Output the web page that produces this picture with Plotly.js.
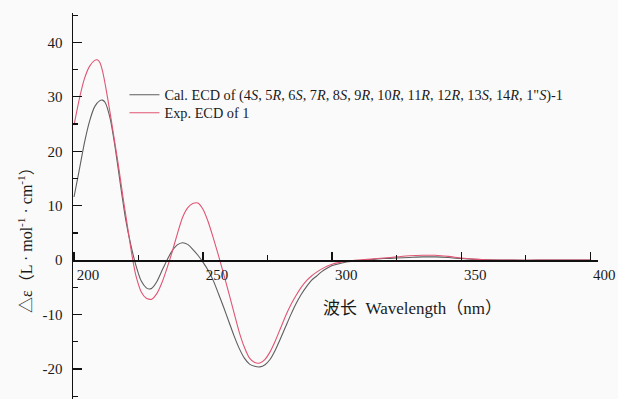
<!DOCTYPE html>
<html>
<head>
<meta charset="utf-8">
<script src="https://cdn.plot.ly/plotly-3.0.1.min.js"></script>
<style>
html,body{margin:0;padding:0;background:#fafafa;}
#chart{width:618px;height:399px;}
</style>
</head>
<body>
<div id="chart"></div>
<script>
// Wavelength (nm) grid for the calculated spectrum
const calWavelength = [200,202,204,206,208,210,211,212,214,216,218,220,222,224,226,228,229,230,232,234,236,238,240,242,244,246,248,250,252,254,256,258,260,262,264,266,268,270,272,274,276,278,280,282,284,286,288,290,292,294,296,298,300,303,306,310,315,320,325,330,335,340,345,350,355,360,370,380,390,400];
const calDelta = [11.6,16.5,21.5,25.5,28.2,29.3,29.4,29.0,26.0,20.5,13.8,7.5,2.8,-1.0,-3.8,-5.1,-5.3,-5.2,-4.0,-2.0,0.0,1.7,2.8,3.2,2.9,2.0,0.9,-0.4,-1.9,-3.8,-6.2,-8.7,-11.3,-13.9,-16.2,-18.0,-19.1,-19.5,-19.6,-19.2,-18.2,-16.5,-14.4,-12.2,-10.0,-8.0,-6.3,-4.9,-3.7,-2.9,-2.1,-1.5,-1.0,-0.6,-0.3,-0.1,0.1,0.3,0.4,0.5,0.6,0.6,0.5,0.3,0.15,0.05,0,0,0,0];

// Experimental spectrum
const expWavelength = [200,202,204,206,208,209,210,211,212,213,214,215,216,217,218,219,220,221,222,223,224,226,228,230,232,234,236,238,240,242,244,246,248,250,252,254,256,258,260,262,264,266,268,270,272,274,276,278,280,282,284,286,288,290,292,294,296,298,300,302,306,310,315,320,325,330,335,340,345,350,355,360,370,380,390,400];
const expDelta = [24.8,29.5,33.3,35.6,36.7,36.8,36.3,34.8,32.5,29.8,27.0,24.0,21.0,18.0,14.8,11.5,8.4,5.3,2.2,-0.6,-2.9,-5.8,-7.0,-7.2,-6.2,-4.2,-1.5,1.5,4.8,7.8,9.6,10.4,10.5,9.3,7.0,4.0,0.8,-2.6,-6.1,-9.7,-13.2,-16.0,-18.0,-18.8,-18.9,-18.2,-16.8,-14.8,-12.5,-10.2,-8.2,-6.5,-5.0,-3.8,-2.9,-2.2,-1.6,-1.1,-0.75,-0.5,-0.2,0,0.2,0.4,0.6,0.8,0.9,0.9,0.7,0.4,0.2,0.05,0,0,0,0];

const xTickVals = [200,250,300,350,400];
const yTickVals = [-20,-10,0,10,20,30,40];

const calName = 'Cal. ECD of (4<i>S</i>, 5<i>R</i>, 6<i>S</i>, 7<i>R</i>, 8<i>S</i>, 9<i>R</i>, 10<i>R</i>, 11<i>R</i>, 12<i>R</i>, 13<i>S</i>, 14<i>R</i>, 1"<i>S</i>)-1';
const expName = 'Exp. ECD of 1';
const xTitle = '波长  Wavelength（nm）';
const yTitle = '△ε（L · mol<sup>-1</sup> · cm<sup>-1</sup>）';

const serif = '"Liberation Serif", "Times New Roman", "Noto Sans CJK SC", serif';
const yMin = -25.5, yMax = 45.4;

const traces = [
  {x: calWavelength, y: calDelta, name: calName, type: 'scatter', mode: 'lines', legend: 'legend',
   line: {color: '#5e5e5e', width: 1.1, shape: 'spline', smoothing: 0.6}},
  {x: expWavelength, y: expDelta, name: expName, type: 'scatter', mode: 'lines', legend: 'legend2',
   line: {color: '#e05573', width: 1.1, shape: 'spline', smoothing: 0.6}}
];

const legendFont = {family: serif, size: 14.3, color: '#1a1a1a'};
const layout = {
  width: 618, height: 399,
  paper_bgcolor: '#fafafa', plot_bgcolor: '#fafafa',
  margin: {l: 73, r: 20, t: 13, b: 0},
  font: {family: serif, size: 15, color: '#1a1a1a'},
  showlegend: true,
  legend: {x: 0.098, y: (399 - 79) / 386, xanchor: 'left', yanchor: 'top',
           bgcolor: 'rgba(0,0,0,0)', borderwidth: 0, font: legendFont, itemwidth: 30},
  legend2: {x: 0.098, y: (399 - 97) / 386, xanchor: 'left', yanchor: 'top',
           bgcolor: 'rgba(0,0,0,0)', borderwidth: 0, font: legendFont, itemwidth: 30},
  xaxis: {
    range: [199.6, 403], anchor: 'free', position: (0 - yMin) / (yMax - yMin),
    showline: true, linecolor: '#111', linewidth: 1.5,
    showgrid: false, zeroline: false,
    tickmode: 'array', tickvals: xTickVals, ticktext: xTickVals.map(String),
    ticks: 'inside', ticklen: 8, tickwidth: 1.3, tickcolor: '#111',
    minor: {dtick: 25, tick0: 200, ticks: 'inside', ticklen: 5, tickwidth: 1.2, tickcolor: '#111'},
    ticklabelshift: 14,
    tickfont: {family: serif, size: 15, color: '#1a1a1a'}
  },
  yaxis: {
    range: [yMin, yMax],
    showline: true, linecolor: '#111', linewidth: 1.5,
    showgrid: false, zeroline: false,
    tickmode: 'array', tickvals: yTickVals, ticktext: yTickVals.map(String),
    ticks: 'inside', ticklen: 9, tickwidth: 1.3, tickcolor: '#111',
    minor: {dtick: 5, tick0: 0, ticks: 'inside', ticklen: 5, tickwidth: 1.2, tickcolor: '#111'},
    ticklabelstandoff: 6,
    tickfont: {family: serif, size: 15, color: '#1a1a1a'}
  },
  annotations: [
    {text: xTitle, xref: 'paper', yref: 'paper', x: (412 - 73) / 525, y: (399 - 308) / 386,
     xanchor: 'center', yanchor: 'middle', showarrow: false,
     font: {family: serif, size: 17, color: '#1a1a1a'}},
    {text: yTitle, xref: 'paper', yref: 'paper', x: (25 - 73) / 525, y: (399 - 236) / 386,
     xanchor: 'center', yanchor: 'middle', textangle: -90, showarrow: false,
     font: {family: serif, size: 16, color: '#1a1a1a'}}
  ]
};

Plotly.newPlot('chart', traces, layout, {displayModeBar: false, staticPlot: true});
</script>
</body>
</html>
